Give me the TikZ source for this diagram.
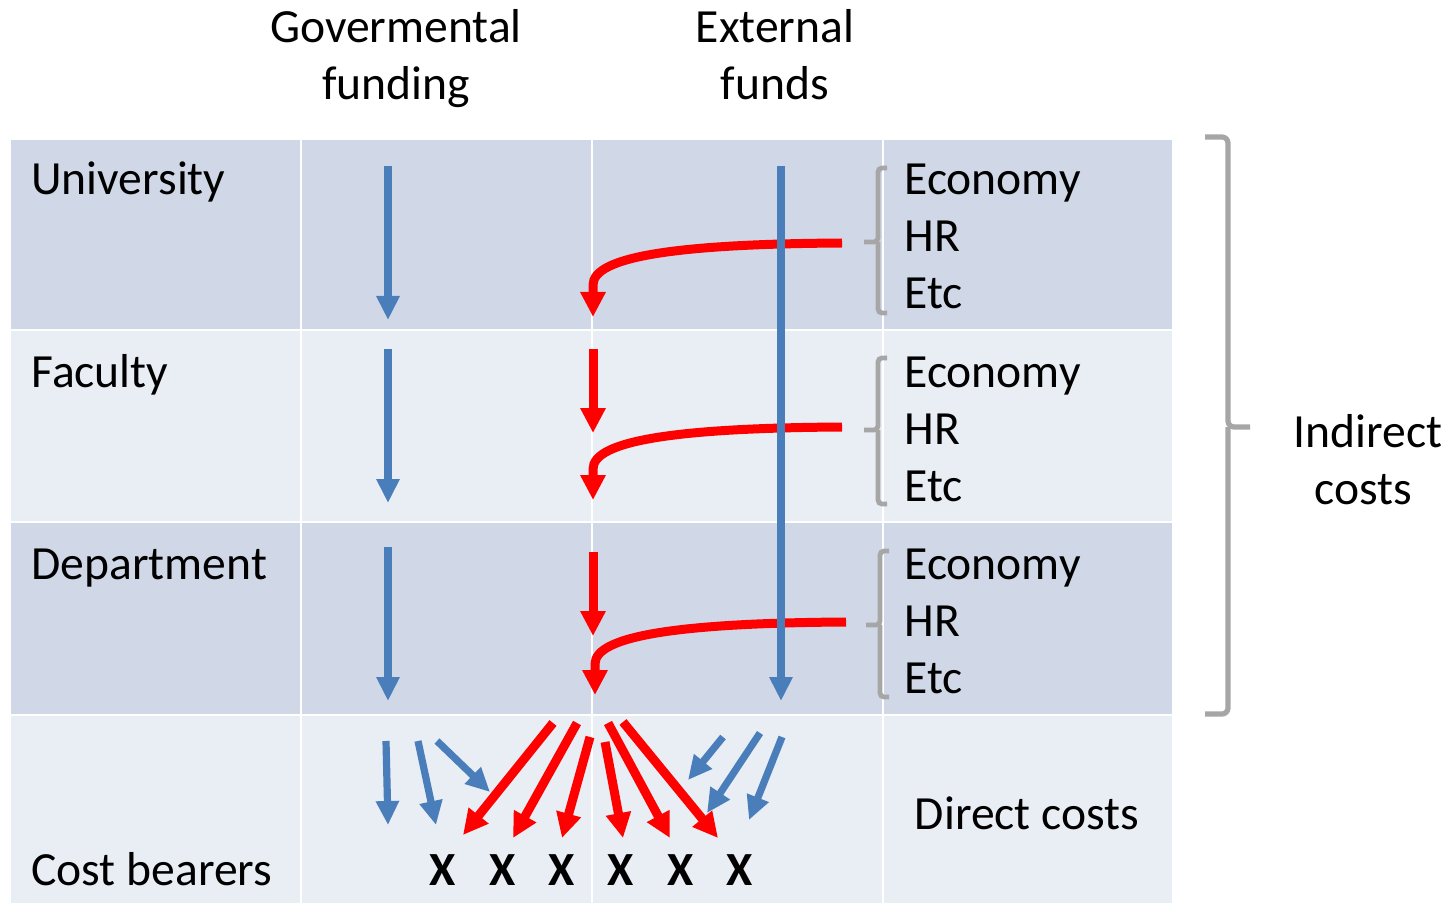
\documentclass[tikz,border=0pt]{standalone}
\usepackage{fontspec}
\setmainfont{Carlito}
\usetikzlibrary{arrows.meta}
\definecolor{rowdark}{HTML}{D0D8E8}
\definecolor{rowlight}{HTML}{E9EDF4}
\definecolor{flowblue}{HTML}{4A7EBB}
\definecolor{flowred}{HTML}{FF0000}
\definecolor{brgray}{HTML}{A6A6A6}
\begin{document}
\begin{tikzpicture}[x=0.5pt,y=-0.5pt,
  lbl/.style={font=\fontsize{23.8pt}{28pt}\selectfont, inner sep=0pt, anchor=base west},
  clbl/.style={font=\fontsize{23.8pt}{28pt}\selectfont, inner sep=0pt, anchor=base},
  xlbl/.style={font=\fontsize{23.8pt}{28pt}\selectfont\bfseries, inner sep=0pt, anchor=base},
  blueflow/.style={draw=flowblue, line width=3.6pt, -{Triangle[width=11pt,length=12pt]}},
  redflow/.style={draw=flowred, line width=4.5pt, -{Triangle[width=12pt,length=12.5pt]}},
  brk/.style={draw=brgray, line width=2.4pt, rounded corners=2pt},
  bigbrk/.style={draw=brgray, line width=2.6pt, rounded corners=3pt}
]
\useasboundingbox (0,0) rectangle (1455,903);
\fill[white] (0,0) rectangle (1455,903);
% table cells
\foreach \xa/\xb in {11/300,302/591,593/882,884/1172}{
  \fill[rowdark]  (\xa,140) rectangle (\xb,329);
  \fill[rowlight] (\xa,331) rectangle (\xb,521);
  \fill[rowdark]  (\xa,523) rectangle (\xb,714);
  \fill[rowlight] (\xa,716) rectangle (\xb,903);
}
% headers
\node[clbl] (h1a) at (396,43) {Govermental};
\node[clbl] (h1b) at (396,100) {funding};
\node[clbl] (h2a) at (775,43) {External};
\node[clbl] (h2b) at (775,100) {funds};
% row labels
\node[lbl] (uni) at (31,195) {University};
\node[lbl] (fac) at (31,387) {Faculty};
\node[lbl] (dep) at (31,579) {Department};
\node[lbl] (cb)  at (31,885) {Cost bearers};
% economy lists
\node[lbl] (e1) at (904,195) {Economy};
\node[lbl] (r1) at (904,252) {HR};
\node[lbl] (t1) at (904,309) {Etc};
\node[lbl] (e2) at (904,387) {Economy};
\node[lbl] (r2) at (904,444) {HR};
\node[lbl] (t2) at (904,501) {Etc};
\node[lbl] (e3) at (904,579) {Economy};
\node[lbl] (r3) at (904,636) {HR};
\node[lbl] (t3) at (904,693) {Etc};
\node[clbl] (dc) at (1027,829) {Direct costs};
\node[clbl] (ic1) at (1368,447) {Indirect};
\node[clbl] (ic2) at (1363,504) {costs};
% cost bearers X
\node[xlbl] (x1) at (443,885) {X};
\node[xlbl] (x2) at (503,885) {X};
\node[xlbl] (x3) at (562,885) {X};
\node[xlbl] (x4) at (621,885) {X};
\node[xlbl] (x5) at (681,885) {X};
\node[xlbl] (x6) at (740,885) {X};
% small brackets
\draw[brk] (887,168) -- (878,168) -- (878,242) -- (864,242);
\draw[brk] (878,242) -- (878,313) -- (887,313);
\draw[brk] (887,358) -- (878,358) -- (878,430) -- (864,430);
\draw[brk] (878,430) -- (878,504) -- (887,504);
\draw[brk] (889,551) -- (880,551) -- (880,625) -- (866,625);
\draw[brk] (880,625) -- (880,697) -- (889,697);
% big bracket
\draw[bigbrk] (1205,137) -- (1228,137) -- (1228,427) -- (1250,427);
\draw[bigbrk] (1228,427) -- (1228,714) -- (1205,714);
% coordinates for flows
\coordinate (gu1) at (388,166); \coordinate (gu2) at (388,320);
\coordinate (gf1) at (388,349); \coordinate (gf2) at (388,503);
\coordinate (gd1) at (388,547); \coordinate (gd2) at (388,701);
\coordinate (ex1) at (781,166); \coordinate (ex2) at (781,701);
\coordinate (rf1) at (593,349); \coordinate (rf2) at (593,433);
\coordinate (rd1) at (593,552); \coordinate (rd2) at (593,636);
\coordinate (cu1) at (842,243); \coordinate (cu2) at (593,317);
\coordinate (cf1) at (842,427); \coordinate (cf2) at (593,500);
\coordinate (cd1) at (846,622); \coordinate (cd2) at (595,695);
% red curved overhead flows (under blue)
\draw[redflow] (cu1) .. controls (680,244) and (593,256) .. (593,285) -- (cu2);
\draw[redflow] (cf1) .. controls (680,428) and (593,440) .. (593,469) -- (cf2);
\draw[redflow] (cd1) .. controls (684,623) and (595,635) .. (595,664) -- (cd2);
\draw[redflow] (rf1) -- (rf2);
\draw[redflow] (rd1) -- (rd2);
% blue flows
\draw[blueflow] (gu1) -- (gu2);
\draw[blueflow] (gf1) -- (gf2);
\draw[blueflow] (gd1) -- (gd2);
\draw[blueflow] (ex1) -- (ex2);
% bottom blue flows
\coordinate (b1s) at (386,741); \coordinate (b1e) at (388,825);
\coordinate (b2s) at (418,741); \coordinate (b2e) at (436,825);
\coordinate (b3s) at (437,741); \coordinate (b3e) at (490,792);
\coordinate (b4s) at (723,737); \coordinate (b4e) at (688,780);
\coordinate (b5s) at (760,733); \coordinate (b5e) at (707,813);
\coordinate (b6s) at (782,737); \coordinate (b6e) at (749,820);
\foreach \n in {1,...,6}{\draw[blueflow] (b\n s) -- (b\n e);}
% bottom red flows
\coordinate (q1s) at (553,723); \coordinate (q1e) at (463,835);
\coordinate (q2s) at (577,723); \coordinate (q2e) at (513,838);
\coordinate (q3s) at (590,737); \coordinate (q3e) at (562,838);
\coordinate (q4s) at (605,742); \coordinate (q4e) at (623,838);
\coordinate (q5s) at (608,723); \coordinate (q5e) at (670,838);
\coordinate (q6s) at (623,722); \coordinate (q6e) at (718,838);
\foreach \n in {1,...,6}{\draw[redflow] (q\n s) -- (q\n e);}
\end{tikzpicture}
\end{document}
